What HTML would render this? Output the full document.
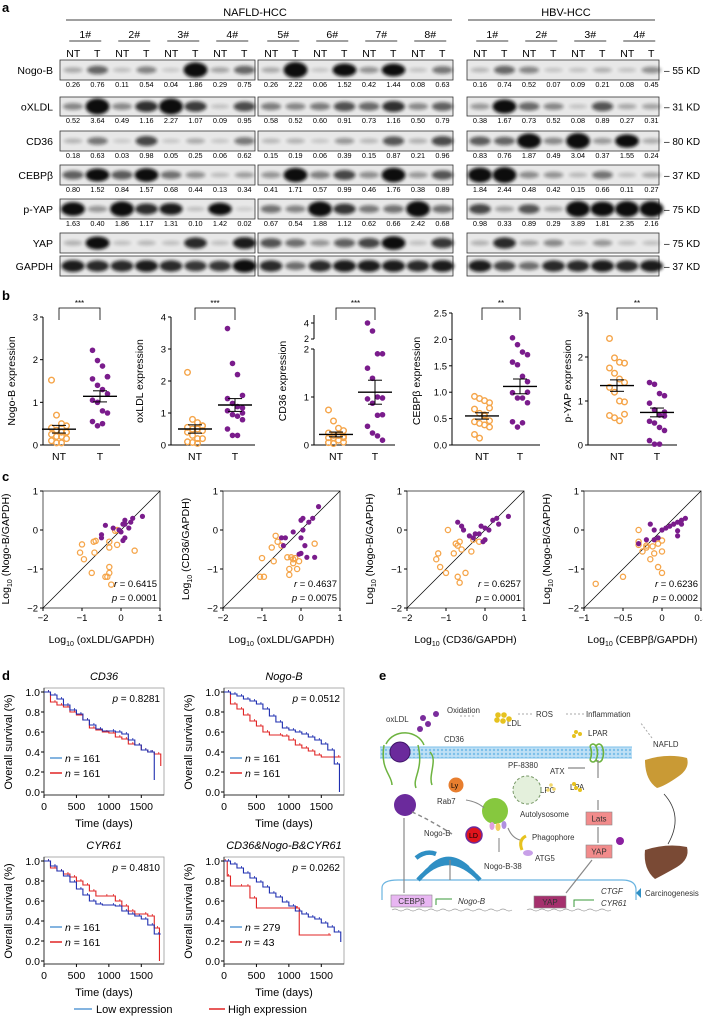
<!DOCTYPE html>
<html><head><meta charset="utf-8">
<style>
html,body{margin:0;padding:0;background:#fff;}
svg{display:block;font-family:"Liberation Sans",Arial,sans-serif;}
</style></head>
<body>
<svg id="fig" width="703" height="1018" viewBox="0 0 703 1018" xmlns="http://www.w3.org/2000/svg">
<defs>
<filter id="blur" x="-50%" y="-50%" width="200%" height="200%"><feGaussianBlur stdDeviation="1.6"/></filter>
<pattern id="mem" width="4" height="4" patternUnits="userSpaceOnUse"><rect width="4" height="4" fill="#bfe0f5"/><circle cx="2" cy="2" r="1.2" fill="#7cc0ea"/></pattern>
</defs>
<g id="panelA"></g>
<g id="panelB"></g>
<g id="panelC"></g>
<g id="panelD"></g>
<g id="panelE"></g>
</svg>
<script>
// ---------- DATA ----------
const blotRows = ["Nogo-B","oXLDL","CD36","CEBPβ","p-YAP","YAP","GAPDH"];
const blotKD = ["55 KD","31 KD","80 KD","37 KD","75 KD","75 KD","37 KD"];
const nogoVals = [[0.26,0.76,0.11,0.54,0.04,1.86,0.29,0.75],[0.26,2.22,0.06,1.52,0.42,1.44,0.08,0.63],[0.16,0.74,0.52,0.07,0.09,0.21,0.08,0.45]];
const oxVals = [[0.52,3.64,0.49,1.16,2.27,1.07,0.09,0.95],[0.58,0.52,0.60,0.91,0.73,1.16,0.50,0.79],[0.38,1.67,0.73,0.52,0.08,0.89,0.27,0.31]];
const cd36Vals = [[0.18,0.63,0.03,0.98,0.05,0.25,0.06,0.62],[0.15,0.19,0.06,0.39,0.15,0.87,0.21,0.96],[0.83,0.76,1.87,0.49,3.04,0.37,1.55,0.24]];
const cebpVals = [[0.80,1.52,0.84,1.57,0.68,0.44,0.13,0.34],[0.41,1.71,0.57,0.99,0.46,1.76,0.38,0.89],[1.84,2.44,0.48,0.42,0.15,0.66,0.11,0.27]];
const pyapVals = [[1.63,0.40,1.86,1.17,1.31,0.10,1.42,0.02],[0.67,0.54,1.88,1.12,0.62,0.66,2.42,0.68],[0.98,0.33,0.89,0.29,3.89,1.81,2.35,2.16]];
const yapVals = [[0.2,1.5,0.1,0.15,0.1,1.2,0.1,1.3],[0.9,0.7,0.4,0.8,1.0,1.6,0.1,1.1],[0.2,1.2,0.3,0.5,0.1,0.4,0.1,0.1]];
const gapdhVals = [[1.3,1.2,1.2,1.3,1.2,1.1,1.1,1.5],[1.2,0.7,1.2,1.3,1.3,1.3,1.2,1.3],[1.3,1.0,0.7,1.2,1.2,1.3,1.2,1.3]];

const bNames = ["Nogo-B expression","oxLDL expression","CD36 expression","CEBPβ expression","p-YAP expression"];
const bStars = ["***","***","***","**","**"];
const bNT = [
 [1.52,0.7,0.5,0.45,0.4,0.35,0.3,0.3,0.25,0.2,0.2,0.15,0.1,0.05,0.05,0.3],
 [2.27,0.8,0.7,0.6,0.55,0.5,0.5,0.45,0.4,0.3,0.2,0.2,0.1,0.08,0.05,0.6],
 [0.73,0.5,0.35,0.3,0.25,0.2,0.2,0.18,0.15,0.15,0.1,0.06,0.05,0.03,0.2,0.15],
 [0.92,0.88,0.84,0.8,0.68,0.6,0.57,0.46,0.44,0.41,0.38,0.34,0.2,0.13,0.55,0.7],
 [2.42,1.98,1.88,1.86,1.75,1.63,1.5,1.42,1.31,1.2,1.0,0.98,0.67,0.62,0.55,0.7]];
const bT = [
 [2.22,1.98,1.85,1.6,1.55,1.4,1.3,1.2,1.05,1.0,0.8,0.75,0.55,0.45,0.5,1.6],
 [3.64,2.55,2.2,1.55,1.45,1.3,1.2,1.16,1.07,0.95,0.9,0.79,0.5,0.3,0.3,1.0],
 [4.0,3.0,1.9,1.9,1.6,1.39,1.0,0.98,0.96,0.87,0.62,0.63,0.39,0.25,0.19,0.1],
 [2.03,1.9,1.76,1.71,1.57,1.52,1.3,1.2,0.99,0.89,0.89,0.8,0.44,0.34,0.42,1.0],
 [1.42,1.38,1.17,1.12,0.95,0.8,0.68,0.66,0.54,0.5,0.4,0.33,0.1,0.02,0.02,0.75]];
const bMean = [[0.37,1.14],[0.5,1.25],[0.22,1.1],[0.55,1.11],[1.35,0.74]];
const bSem = [[0.09,0.13],[0.13,0.2],[0.05,0.25],[0.06,0.14],[0.13,0.1]];
const bTicks = [[0,1,2,3],[0,1,2,3,4],[0,1,2,4],[0,0.5,1.0,1.5,2.0,2.5],[0,1,2,3]];
const bTickLabels = [["0","1","2","3"],["0","1","2","3","4"],["0","1","2","4"],["0.0","0.5","1.0","1.5","2.0","2.5"],["0","1","2","3"]];
const bMax = [3,4,4,2.5,3];

const cYLab = ["(Nogo-B/GAPDH)","(CD36/GAPDH)","(Nogo-B/GAPDH)","(Nogo-B/GAPDH)"];
const cXLab = ["(oxLDL/GAPDH)","(oxLDL/GAPDH)","(CD36/GAPDH)","(CEBPβ/GAPDH)"];
const cR = ["0.6415","0.4637","0.6257","0.6236"];
const cP = ["0.0001","0.0075","0.0001","0.0002"];
const cXTicks = [[-2,-1,0,1],[-2,-1,0,1],[-2,-1,0,1],[-1,-0.5,0,0.5]];
const cXTickLabels = [["−2","−1","0","1"],["−2","−1","0","1"],["−2","−1","0","1"],["−1","−0.5","0","0.5"]];
const cYTicks = [-2,-1,0,1];
const cOrange = [
 [[-1.0,-0.37],[-1.05,-0.58],[-0.95,-0.75],[-0.75,-1.1],[-0.7,-0.3],[-0.65,-0.28],[-0.68,-0.58],[-0.3,-0.95],[-0.3,-1.1],[-0.35,-1.2],[-0.4,-1.2],[-0.25,-1.4],[-0.3,-0.3],[-0.3,-0.45],[-0.1,-0.38],[-0.1,0],[0.35,-0.53],[-0.15,-0.02]],
 [[-1.0,-0.72],[-1.05,-1.2],[-0.95,-1.2],[-0.7,-0.8],[-0.75,-0.45],[-0.65,-0.15],[-0.6,-0.3],[-0.5,-0.4],[-0.35,-0.7],[-0.25,-0.7],[-0.2,-0.75],[-0.2,-0.85],[-0.3,-1.0],[-0.3,-1.15],[-0.1,-1.0],[-0.05,-0.8],[0.35,-0.35],[-0.15,-0.72]],
 [[-0.95,0],[-1.2,-0.6],[-1.25,-0.75],[-1.15,-0.95],[-1.0,-1.1],[-0.7,-1.2],[-0.65,-1.35],[-0.5,-1.1],[-0.75,-0.35],[-0.7,-0.4],[-0.65,-0.3],[-0.6,-0.5],[-0.35,-0.55],[-0.3,-0.25],[-0.15,-0.3],[-0.8,-0.6]],
 [[-0.85,-1.38],[-0.5,-1.2],[-0.3,-0.3],[-0.3,-0.38],[-0.25,-0.55],[-0.2,-0.4],[-0.15,-0.75],[-0.1,-0.6],[-0.05,-0.35],[0,-0.27],[0,-0.55],[-0.05,-0.95],[0,-1.1],[-0.3,0],[-0.12,-0.42],[-0.2,-0.45]]];
const cPurple = [
 [[-0.4,0.12],[-0.5,-0.12],[-0.5,-0.2],[-0.2,0.05],[0.05,0.15],[0.1,0.25],[0.1,0.15],[0.2,0.05],[0.1,-0.2],[0.05,-0.27],[0.3,0.3],[0.55,0.35],[0.25,0.2],[0.0,-0.05],[-0.05,0]],
 [[-0.5,-0.2],[-0.45,-0.4],[-0.4,-0.2],[-0.2,-0.05],[0.0,0.25],[0.05,0.3],[0.2,0.2],[0.3,0.3],[0.45,0.6],[0.0,-0.2],[0.1,-0.4],[0.0,-0.6],[-0.05,-0.62],[0.15,-0.7],[0.35,-0.7],[0.05,0]],
 [[-0.7,0.2],[-0.6,0.1],[-0.55,0.0],[-0.4,-0.15],[-0.3,-0.2],[-0.25,-0.1],[-0.1,0.1],[0.0,0.05],[0.0,-0.25],[-0.05,-0.3],[0.2,0.25],[0.3,0.3],[0.35,0.15],[0.6,0.35],[-0.15,-0.1],[0.1,0.0]],
 [[-0.3,-0.35],[-0.2,-0.25],[-0.15,0.15],[-0.1,-0.25],[-0.05,-0.2],[0,0],[0.05,0.05],[0.1,0.1],[0.15,0.15],[0.2,0.2],[0.2,-0.15],[0.2,-0.02],[0.25,0.25],[0.3,0.3],[0.25,0.15],[-0.1,0.0]]];

const dTitles = ["CD36","Nogo-B","CYR61","CD36&Nogo-B&CYR61"];
const dP = ["0.8281","0.0512","0.4810","0.0262"];
const dNLow = ["161","161","161","279"];
const dNHigh = ["161","161","161","43"];
const dXTicks = [0,500,1000,1500];
const dYTicks = [0,0.2,0.4,0.6,0.8,1.0];
const dLow = [
 [[0,1],[100,0.97],[200,0.93],[300,0.87],[400,0.82],[500,0.78],[600,0.72],[700,0.67],[800,0.63],[900,0.61],[1100,0.6],[1200,0.58],[1300,0.52],[1400,0.47],[1500,0.42],[1600,0.4],[1680,0.4],[1700,0.12]],
 [[0,1],[100,0.98],[200,0.96],[300,0.93],[400,0.91],[500,0.88],[600,0.83],[700,0.76],[800,0.7],[900,0.64],[1000,0.62],[1100,0.6],[1200,0.58],[1300,0.55],[1400,0.52],[1500,0.48],[1600,0.42],[1700,0.28],[1780,0.0]],
 [[0,1],[100,0.95],[200,0.9],[300,0.85],[400,0.79],[500,0.72],[600,0.66],[700,0.6],[800,0.57],[900,0.56],[1100,0.55],[1200,0.5],[1300,0.47],[1400,0.45],[1500,0.42],[1600,0.36],[1700,0.27],[1800,0.27]],
 [[0,1],[100,0.97],[200,0.93],[300,0.88],[400,0.83],[500,0.79],[600,0.74],[700,0.68],[800,0.64],[900,0.59],[1000,0.55],[1100,0.5],[1200,0.47],[1300,0.44],[1400,0.42],[1500,0.38],[1600,0.34],[1700,0.29],[1800,0.19]]];
const dHigh = [
 [[0,1],[100,0.9],[200,0.87],[300,0.85],[400,0.8],[500,0.77],[600,0.72],[700,0.64],[800,0.62],[900,0.6],[1000,0.59],[1100,0.55],[1200,0.53],[1300,0.48],[1400,0.47],[1500,0.42],[1600,0.4],[1700,0.38],[1800,0.26]],
 [[0,1],[100,0.88],[200,0.83],[300,0.77],[400,0.71],[500,0.66],[600,0.6],[700,0.57],[900,0.56],[1000,0.52],[1100,0.47],[1200,0.44],[1300,0.41],[1400,0.37],[1500,0.35],[1800,0.35]],
 [[0,1],[100,0.93],[200,0.9],[300,0.87],[400,0.84],[500,0.8],[600,0.76],[700,0.7],[800,0.65],[1000,0.65],[1100,0.6],[1200,0.55],[1300,0.5],[1400,0.47],[1600,0.45],[1700,0.33],[1780,0.0]],
 [[0,1],[50,0.85],[100,0.75],[300,0.75],[400,0.63],[500,0.53],[1150,0.53],[1160,0.26],[1650,0.26]]];

// ---------- HELPERS ----------
const NS="http://www.w3.org/2000/svg";
function mk(parent,tag,attrs,text){const e=document.createElementNS(NS,tag);for(const k in attrs)e.setAttribute(k,attrs[k]);if(text!==undefined)e.textContent=text;parent.appendChild(e);return e;}
const ORANGE="#f5a54a", PURPLE="#7a1c8c";

// ---------- PANEL A ----------
const A=document.getElementById('panelA');
let t=mk(A,'text',{x:2,y:12,'font-size':13,'font-weight':'bold'},'a');


const boxX=[60,258,467], boxW=[195,195,192];
const rowY=[60,97,131,165,199,233,256], rowH=[20,19,20,20,20,20,20];
const rowVals=[nogoVals,oxVals,cd36Vals,cebpVals,pyapVals,yapVals,gapdhVals];
t=mk(A,'text',{x:255,y:16,'font-size':11,'text-anchor':'middle'},'NAFLD-HCC');


mk(A,'line',{x1:66,y1:20,x2:452,y2:20,stroke:'#000','stroke-width':0.8});
t=mk(A,'text',{x:566,y:16,'font-size':11,'text-anchor':'middle'},'HBV-HCC');


mk(A,'line',{x1:468,y1:20,x2:655,y2:20,stroke:'#000','stroke-width':0.8});
const sampleNames=[["1#","2#","3#","4#"],["5#","6#","7#","8#"],["1#","2#","3#","4#"]];
for(let g=0;g<3;g++){
  for(let s=0;s<4;s++){
    const cx=boxX[g]+13+(2*s+0.5)*24.5;
    t=mk(A,'text',{x:cx,y:38,'font-size':10.5,'text-anchor':'middle'},sampleNames[g][s]);
    
    
    mk(A,'line',{x1:cx-16,y1:41,x2:cx+16,y2:41,stroke:'#000','stroke-width':0.8});
    mk(A,'text',{x:cx-12,y:57,'font-size':10.5,'text-anchor':'middle'},'NT');
    mk(A,'text',{x:cx+12,y:57,'font-size':10.5,'text-anchor':'middle'},'T');
  }
}
for(let r=0;r<7;r++){
  t=mk(A,'text',{x:53,y:rowY[r]+rowH[r]/2+4,'font-size':10.5,'text-anchor':'end'},blotRows[r]);
  
  
  t=mk(A,'text',{x:664,y:rowY[r]+rowH[r]/2+4,'font-size':10},'– '+blotKD[r]);
  
  
  for(let g=0;g<3;g++){
    const bg=mk(A,'rect',{x:boxX[g],y:rowY[r],width:boxW[g],height:rowH[r],fill:'#e8e8e8',stroke:'#333','stroke-width':0.8});
    
    
    for(let l=0;l<8;l++){
      const v=rowVals[r][g][l];
      const lx=boxX[g]+13+l*24.5;
      const op=Math.min(1,0.12+v/1.6);
      const b=mk(A,'ellipse',{cx:lx,cy:rowY[r]+rowH[r]/2,rx:9+Math.min(3,v*2),ry:2+Math.min(6,v*3),fill:'#111',opacity:op,filter:'url(#blur)'});
      
      
      if(r<5){
        const n=mk(A,'text',{x:lx,y:rowY[r]+rowH[r]+7,'font-size':7.3,'text-anchor':'middle'},v.toFixed(2));
        
        
      }
    }
  }
}

// ---------- PANEL B ----------
const B=document.getElementById('panelB');
t=mk(B,'text',{x:2,y:300,'font-size':13,'font-weight':'bold'},'b');


const bAxisX=[43,171,314,452,588], bNTx=[59,195,336,482,617], bTx=[100,235,375,520,657];
const bBottom=445, bTop=[317,317,315,313,313];
function bY(i,v){
  if(i===2){
    if(v<=2) return bBottom-v*48;
    return 339-(v-2)*8;
  }
  return bBottom-(v/bMax[i])*(bBottom-bTop[i]);
}
for(let i=0;i<5;i++){
  const ax=bAxisX[i];
  if(i===2){
    mk(B,'line',{x1:ax,y1:bBottom,x2:ax,y2:bY(2,2),stroke:'#000','stroke-width':1});
    mk(B,'line',{x1:ax,y1:339,x2:ax,y2:bTop[2],stroke:'#000','stroke-width':1});
  } else mk(B,'line',{x1:ax,y1:bBottom,x2:ax,y2:bTop[i],stroke:'#000','stroke-width':1});
  mk(B,'line',{x1:ax,y1:bBottom,x2:bTx[i]+20,y2:bBottom,stroke:'#000','stroke-width':1});
  bTicks[i].forEach((tv,k)=>{
    let yy=bY(i,tv);
    if(i===2&&k===2) { yy=bY(2,2);
      mk(B,'line',{x1:ax-3,y1:339,x2:ax,y2:339,stroke:'#000'});
      t=mk(B,'text',{x:ax-5,y:339+3,'font-size':9,'text-anchor':'end'},'2');
    }
    mk(B,'line',{x1:ax-3,y1:yy,x2:ax,y2:yy,stroke:'#000'});
    t=mk(B,'text',{x:ax-5,y:yy+3.5,'font-size':9.5,'text-anchor':'end'},bTickLabels[i][k]);
    
    
  });
  const lx=i===4?ax-17:ax-(i===3?32:28);
  t=mk(B,'text',{x:lx,y:381,'font-size':10.5,'text-anchor':'middle',transform:`rotate(-90 ${lx} 381)`},bNames[i]);
  
  
  t=mk(B,'text',{x:bNTx[i],y:460,'font-size':10.5,'text-anchor':'middle'},'NT');
  
  
  t=mk(B,'text',{x:bTx[i],y:460,'font-size':10.5,'text-anchor':'middle'},'T');
  
  
  mk(B,'path',{d:`M${bNTx[i]} 320 V308 H${bTx[i]} V320`,fill:'none',stroke:'#000','stroke-width':0.8});
  t=mk(B,'text',{x:(bNTx[i]+bTx[i])/2,y:306,'font-size':8,'text-anchor':'middle'},bStars[i]);
  
  
  [[bNT[i],bNTx[i],ORANGE,true],[bT[i],bTx[i],PURPLE,false]].forEach(([vals,cx,col,open])=>{
    vals.forEach((v,k)=>{
      const off=((k%4)-1.5)*5;
      const c=mk(B,'circle',{cx:cx+off,cy:bY(i,v),r:2.8,fill:open?'none':col,stroke:col,'stroke-width':open?1.4:0});
      
      
    });
  });
  [0,1].forEach(j=>{
    const cx=j?bTx[i]:bNTx[i], m=bMean[i][j], s=bSem[i][j];
    const ml=mk(B,'line',{x1:cx-17,y1:bY(i,m),x2:cx+17,y2:bY(i,m),stroke:'#000','stroke-width':1.4});
    
    
    mk(B,'line',{x1:cx,y1:bY(i,m-s),x2:cx,y2:bY(i,m+s),stroke:'#000','stroke-width':1});
    mk(B,'line',{x1:cx-7,y1:bY(i,m-s),x2:cx+7,y2:bY(i,m-s),stroke:'#000','stroke-width':1});
    mk(B,'line',{x1:cx-7,y1:bY(i,m+s),x2:cx+7,y2:bY(i,m+s),stroke:'#000','stroke-width':1});
  });
}

// ---------- PANEL C ----------
const C=document.getElementById('panelC');
t=mk(C,'text',{x:2,y:481,'font-size':13,'font-weight':'bold'},'c');


const cL=[43,223,407,584], cW=117, cTopY=491, cBotY=608;
for(let i=0;i<4;i++){
  const x0=cL[i], xmin=cXTicks[i][0], xmax=cXTicks[i][3];
  const sx=v=>x0+(v-xmin)/(xmax-xmin)*cW;
  const sy=v=>cBotY-(v+2)/3*(cBotY-cTopY);
  mk(C,'rect',{x:x0,y:cTopY,width:cW,height:cBotY-cTopY,fill:'none',stroke:'#444','stroke-width':0.9});
  if(i<3) mk(C,'line',{x1:sx(-2),y1:sy(-2),x2:sx(1),y2:sy(1),stroke:'#000','stroke-width':0.7});
  else mk(C,'line',{x1:x0,y1:cBotY,x2:x0+cW,y2:cTopY,stroke:'#000','stroke-width':0.7});
  cXTicks[i].forEach((v,k)=>{
    mk(C,'line',{x1:sx(v),y1:cBotY,x2:sx(v),y2:cBotY+3,stroke:'#000'});
    t=mk(C,'text',{x:sx(v),y:cBotY+13,'font-size':9.5,'text-anchor':'middle'},cXTickLabels[i][k]);
    
    
  });
  cYTicks.forEach(v=>{
    mk(C,'line',{x1:x0-3,y1:sy(v),x2:x0,y2:sy(v),stroke:'#000'});
    t=mk(C,'text',{x:x0-5,y:sy(v)+3.5,'font-size':9.5,'text-anchor':'end'},v<0?'−'+(-v):String(v));
    
    
  });
  const yl=mk(C,'text',{x:x0-34,y:549,'font-size':10.5,'text-anchor':'middle',transform:`rotate(-90 ${x0-34} 549)`});
  
  
  mk(yl,'tspan',{},'Log');mk(yl,'tspan',{'font-size':7,dy:3},'10');mk(yl,'tspan',{dy:-3},' '+cYLab[i]);
  const xl=mk(C,'text',{x:x0+cW/2,y:643,'font-size':10.5,'text-anchor':'middle'});
  
  
  mk(xl,'tspan',{},'Log');mk(xl,'tspan',{'font-size':7,dy:3},'10');mk(xl,'tspan',{dy:-3},' '+cXLab[i]);
  cOrange[i].forEach(p=>{
    const c=mk(C,'circle',{cx:sx(p[0]),cy:sy(p[1]),r:2.6,fill:'none',stroke:ORANGE,'stroke-width':1.3});
    
    
  });
  cPurple[i].forEach(p=>{
    const c=mk(C,'circle',{cx:sx(p[0]),cy:sy(p[1]),r:2.6,fill:PURPLE});
    
    
  });
  t=mk(C,'text',{x:x0+cW-3,y:587,'font-size':9.5,'text-anchor':'end'});
  
  
  mk(t,'tspan',{'font-style':'italic'},'r');mk(t,'tspan',{},' = '+cR[i]);
  t=mk(C,'text',{x:x0+cW-3,y:601,'font-size':9.5,'text-anchor':'end'});
  
  
  mk(t,'tspan',{'font-style':'italic'},'p');mk(t,'tspan',{},' = '+cP[i]);
}

// ---------- PANEL D ----------
const D=document.getElementById('panelD');
t=mk(D,'text',{x:2,y:680,'font-size':13,'font-weight':'bold'},'d');


const dL=[44,224,44,224], dTop=[692,692,861,861], dW=120, dH=100, dXmax=1850;
for(let i=0;i<4;i++){
  const x0=dL[i], y1=dTop[i], y0=y1+dH;
  const sx=v=>x0+v/dXmax*dW, sy=v=>y0-v*dH;
  mk(D,'rect',{x:x0,y:y1-4,width:dW,height:dH+7,fill:'none',stroke:'#999','stroke-width':0.8});
  mk(D,'line',{x1:x0,y1:y1-4,x2:x0,y2:y0+3,stroke:'#333','stroke-width':1});
  mk(D,'line',{x1:x0,y1:y0+3,x2:x0+dW,y2:y0+3,stroke:'#333','stroke-width':1});
  t=mk(D,'text',{x:x0+dW/2,y:y1-12,'font-size':11,'font-style':'italic','text-anchor':'middle'},dTitles[i]);
  
  
  dYTicks.forEach(v=>{
    mk(D,'line',{x1:x0-3,y1:sy(v),x2:x0,y2:sy(v),stroke:'#000'});
    t=mk(D,'text',{x:x0-4,y:sy(v)+4,'font-size':10.5,'text-anchor':'end'},v.toFixed(1));
    
    
  });
  dXTicks.forEach(v=>{
    mk(D,'line',{x1:sx(v),y1:y0+3,x2:sx(v),y2:y0+6,stroke:'#000'});
    t=mk(D,'text',{x:sx(v),y:y0+18,'font-size':10.5,'text-anchor':'middle'},String(v));
    
    
  });
  t=mk(D,'text',{x:x0+dW/2,y:y0+35,'font-size':11,'text-anchor':'middle'},'Time (days)');
  
  
  t=mk(D,'text',{x:x0-32,y:y0-dH/2,'font-size':11,'text-anchor':'middle',transform:`rotate(-90 ${x0-32} ${y0-dH/2})`},'Overall survival (%)');
  
  
  [[dHigh[i],'#e02424','high-expression-curve'],[dLow[i],'#1f2fb0','low-expression-curve']].forEach(([pts,col,nm])=>{
    let d=`M${sx(pts[0][0])} ${sy(pts[0][1])}`;
    for(let k=1;k<pts.length;k++) d+=` H${sx(pts[k][0])} V${sy(pts[k][1])}`;
    const p=mk(D,'path',{d:d,fill:'none',stroke:col,'stroke-width':1.1});
    
    
    for(let k=1;k<pts.length;k+=1) mk(D,'line',{x1:sx(pts[k][0])-2,y1:sy(pts[k-1][1]),x2:sx(pts[k][0])-2,y2:sy(pts[k-1][1])-2,stroke:col,'stroke-width':0.8});
  });
  t=mk(D,'text',{x:x0+dW-4,y:y1+10,'font-size':10,'text-anchor':'end'});
  
  
  mk(t,'tspan',{'font-style':'italic'},'p');mk(t,'tspan',{},' = '+dP[i]);
  mk(D,'line',{x1:x0+6,y1:y0-34,x2:x0+18,y2:y0-34,stroke:'#5b9bd5','stroke-width':1.5});
  t=mk(D,'text',{x:x0+21,y:y0-30,'font-size':10.5});
  
  
  mk(t,'tspan',{'font-style':'italic'},'n');mk(t,'tspan',{},' = '+dNLow[i]);
  mk(D,'line',{x1:x0+6,y1:y0-19,x2:x0+18,y2:y0-19,stroke:'#e02424','stroke-width':1.5});
  t=mk(D,'text',{x:x0+21,y:y0-15,'font-size':10.5});
  
  
  mk(t,'tspan',{'font-style':'italic'},'n');mk(t,'tspan',{},' = '+dNHigh[i]);
}
const lg=mk(D,'g',{});


mk(lg,'line',{x1:74,y1:1009,x2:92,y2:1009,stroke:'#5b9bd5','stroke-width':1.5});
mk(lg,'text',{x:96,y:1013,'font-size':11},'Low expression');
mk(lg,'line',{x1:209,y1:1009,x2:225,y2:1009,stroke:'#e02424','stroke-width':1.5});
mk(lg,'text',{x:228,y:1013,'font-size':11},'High expression');
</script>
<script>
// ---------- PANEL E (diagram) ----------
(function(){
const E=document.getElementById('panelE');
const NS="http://www.w3.org/2000/svg";
function mk(p,tag,a,tx){const e=document.createElementNS(NS,tag);for(const k in a)e.setAttribute(k,a[k]);if(tx!==undefined)e.textContent=tx;p.appendChild(e);return e;}
let t=mk(E,'text',{x:379,y:680,'font-size':13,'font-weight':'bold'},'e');


// membrane
const m=mk(E,'rect',{x:380,y:747,width:252,height:11,fill:'url(#mem)'});


mk(E,'line',{x1:380,y1:747,x2:632,y2:747,stroke:'#7cc0ea'});mk(E,'line',{x1:380,y1:758,x2:632,y2:758,stroke:'#7cc0ea'});
// nucleus envelope
const nu=mk(E,'path',{d:'M382 900 V888 q0 -8 16 -8 H622 q14 0 14 10 V900',fill:'none',stroke:'#6ab4e0','stroke-width':1.2});

// DNA
mk(E,'path',{d:'M392 910 q3 -2 6 0 t6 0 t6 0 t6 0 t6 0 t6 0 t6 0 t6 0 t6 0 t6 0 t6 0 t6 0 t6 0 t6 0 t6 0 t6 0 t6 0 t6 0 t6 0 t6 0 M527 910 q3 -2 6 0 t6 0 t6 0 t6 0 t6 0 t6 0 t6 0 t6 0 t6 0 t6 0 t6 0 t6 0 t6 0 t6 0',fill:'none',stroke:'#999','stroke-width':0.7});
// ER
const er=mk(E,'path',{d:'M418 880 q30 -34 62 0 M424 874 q24 -26 50 0 M430 868 q18 -18 38 0 M416 858 q10 -8 20 -4',fill:'none',stroke:'#2f8fc4','stroke-width':4.5});

// labels
const labels=[[386,722,'oxLDL'],[447,713,'Oxidation'],[507,726,'LDL'],[536,717,'ROS'],[586,717,'Inflammation'],[444,742,'CD36'],[588,736,'LPAR'],[653,747,'NAFLD'],[508,768,'PF-8380'],[550,774,'ATX'],[540,793,'LPC'],[570,790,'LPA'],[437,804,'Rab7'],[520,817,'Autolysosome'],[424,836,'Nogo-B'],[532,840,'Phagophore'],[535,861,'ATG5'],[484,869,'Nogo-B-38'],[645,896,'Carcinogenesis']];
labels.forEach(l=>{const e=mk(E,'text',{x:l[0],y:l[1],'font-size':7.8,fill:'#333'},l[2]);});
// particles
[[423,718],[428,724],[436,714],[420,729]].forEach(p=>mk(E,'circle',{cx:p[0],cy:p[1],r:3,fill:'#7a2c9c'}));
[[498,715],[504,715],[497,720],[503,721],[509,719]].forEach(p=>mk(E,'circle',{cx:p[0],cy:p[1],r:2.8,fill:'#e6c21f'}));
mk(E,'line',{x1:474,y1:716,x2:458,y2:716,stroke:'#aaa','stroke-dasharray':'2 2'});
mk(E,'line',{x1:532,y1:714,x2:518,y2:714,stroke:'#aaa','stroke-dasharray':'2 2'});
mk(E,'line',{x1:584,y1:714,x2:566,y2:714,stroke:'#aaa','stroke-dasharray':'2 2'});
mk(E,'line',{x1:652,y1:738,x2:640,y2:722,stroke:'#aaa','stroke-dasharray':'2 2'});
// CD36 receptor complex
mk(E,'path',{d:'M384 745 C380 770 392 775 392 785 M418 745 C424 770 412 778 416 788 M386 744 C394 728 418 730 424 745 M430 752 C438 760 428 775 432 785',fill:'none',stroke:'#6db33f','stroke-width':1.5});
const cd=mk(E,'circle',{cx:400,cy:752,r:10,fill:'#6b2a9c',stroke:'#3e1466'});

// LPAR
const lp=mk(E,'path',{d:'M590 746 q3 7 0 14 M596 746 q3 7 0 14 M602 746 q3 7 0 14 M590 746 q3 -4 6 0 q3 -4 6 0 M590 760 q3 4 6 0 q3 4 6 0',fill:'none',stroke:'#6db33f','stroke-width':1.6});

[[576,732],[580,734],[574,736],[576,788],[580,790],[574,784]].forEach(p=>mk(E,'circle',{cx:p[0],cy:p[1],r:2,fill:'#e6c21f'}));
[[551,785],[554,789],[548,790]].forEach(p=>mk(E,'circle',{cx:p[0],cy:p[1],r:1.8,fill:'#f1d66a'}));
// livers
const lv=mk(E,'path',{d:'M645 760 q22 -7 42 -2 q3 10 -8 18 q-14 10 -22 12 q-12 -8 -12 -28z',fill:'#c99a35'});

const lv2=mk(E,'path',{d:'M645 850 q22 -7 42 -3 q3 12 -10 20 q-14 8 -22 12 q-12 -10 -10 -29z',fill:'#7a4a35'});

mk(E,'path',{d:'M664 794 q20 22 4 50',fill:'none',stroke:'#333','stroke-width':0.8});
// organelles
const od=mk(E,'circle',{cx:405,cy:805,r:11,fill:'#6b2a9c'});
mk(E,'circle',{cx:456,cy:785,r:7.5,fill:'#e87e2e'});mk(E,'text',{x:451,y:788,'font-size':7},'Ly');
mk(E,'circle',{cx:527,cy:790,r:14,fill:'#e4f0dc',stroke:'#7a9a6a','stroke-dasharray':'3 2'});
const au=mk(E,'circle',{cx:495,cy:811,r:13,fill:'#86c83e'});
[[492,826,'#e0a0e0'],[498,827,'#f0d060'],[504,825,'#b090e0']].forEach(p=>mk(E,'ellipse',{cx:p[0],cy:p[1],rx:2.5,ry:4,fill:p[2]}));
const ld=mk(E,'circle',{cx:474,cy:835,r:8,fill:'#e0141c',stroke:'#6b2a9c','stroke-width':1.5});
mk(E,'text',{x:469,y:838,'font-size':7},'LD');
mk(E,'path',{d:'M526 836 q-8 4 -4 14',fill:'none',stroke:'#e6c21f','stroke-width':3});
mk(E,'ellipse',{cx:528,cy:853,rx:5,ry:3,fill:'#c8a0e8'});
// boxes
function box(x,y,w,h,fill,txt,nm){const r=mk(E,'rect',{x:x,y:y,width:w,height:h,fill:fill,stroke:'#888','stroke-width':0.6});mk(E,'text',{x:x+w/2,y:y+h/2+3,'font-size':8,'text-anchor':'middle',fill:'#333'},txt);}
box(586,812,26,13,'#f28b8b','Lats','lats-box');
box(586,845,26,13,'#f28b8b','YAP','yap-cytoplasm-box');
mk(E,'circle',{cx:620,cy:841,r:4,fill:'#8a1fa0'});
box(534,896,32,12,'#a5306d','YAP','yap-nuclear-box');
box(391,895,41,12,'#e8b6f2','CEBPβ','cebpb-box');
mk(E,'text',{x:458,y:904,'font-size':8,'font-style':'italic',fill:'#333'},'Nogo-B');
mk(E,'text',{x:601,y:894,'font-size':8,'font-style':'italic',fill:'#333'},'CTGF');
mk(E,'text',{x:601,y:906,'font-size':8,'font-style':'italic',fill:'#333'},'CYR61');
mk(E,'path',{d:'M436 905 v-6 h16 M574 907 v-7 h20',fill:'none',stroke:'#3a9a3a','stroke-width':1});
mk(E,'path',{d:'M636 893 l5 -5 v10z',fill:'#2f8fc4'});
// arrows
['M598 778 V760','M598 800 V810','M598 827 V843','M592 860 L566 893','M404 818 V893','M585 768 H568','M450 860 V880'].forEach(a=>mk(E,'path',{d:a,fill:'none',stroke:'#888','stroke-width':1.2}));
mk(E,'path',{d:'M412 812 q18 8 40 22',fill:'none',stroke:'#888','stroke-dasharray':'4 3','stroke-width':1.4});
mk(E,'path',{d:'M466 800 q12 2 18 8 M508 828 q4 10 12 12 M499 852 V838',fill:'none',stroke:'#888','stroke-width':1.1});
})();
</script>
</body></html>
